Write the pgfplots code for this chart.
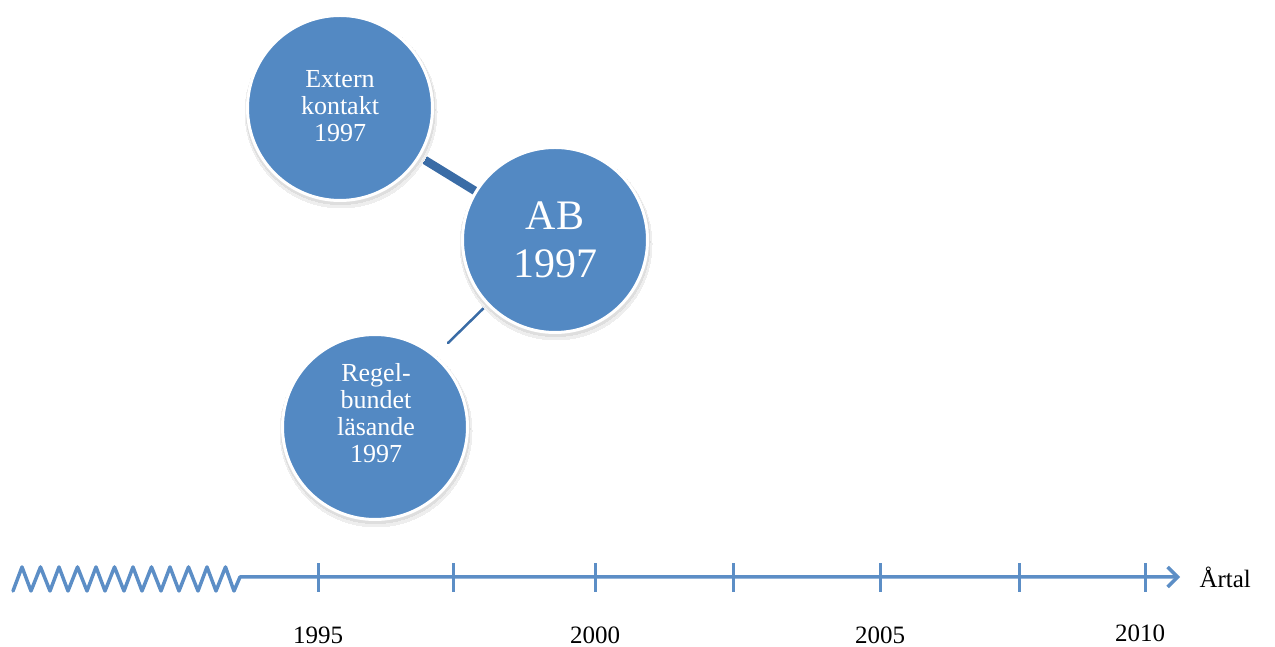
\documentclass[border=0pt]{standalone}
\usepackage{fontspec}
\setmainfont{Liberation Serif}
\usepackage{pgfplots}
\pgfplotsset{compat=1.18}
\usetikzlibrary{arrows.meta}
\definecolor{circfill}{RGB}{83,137,195}
\definecolor{tline}{RGB}{92,142,198}
\definecolor{conn}{RGB}{58,108,166}
\definecolor{shadA}{RGB}{238,238,238}
\definecolor{shadB}{RGB}{222,222,222}
\begin{document}
\begin{tikzpicture}
\begin{axis}[
  width=1275pt, height=646pt, scale only axis,
  xmin=0, xmax=1275, ymin=0, ymax=646,
  hide axis, clip=false]
\path (rel axis cs:0,0) rectangle (rel axis cs:1,1);
% timeline with zigzag
\addplot[tline, line width=3.5pt, line join=round, line cap=round,
  -{Straight Barb[length=10pt,width=20pt,line width=3.5pt]}] coordinates {
  (13,55) (22,79) (31,55) (40.5,79) (50,55) (59,79) (68,55) (77.5,79)
  (87,55) (96,79) (105,55) (114.5,79) (124,55) (133,79) (142,55)
  (151.5,79) (161,55) (170,79) (179,55) (188.5,79) (198,55) (207,79)
  (216,55) (225.5,79) (234,55) (240,69) (1180,69)};
% ticks
\addplot[tline, line width=3pt, unbounded coords=jump] coordinates {
  (318,54) (318,83) (318,nan)
  (453,54) (453,83) (453,nan)
  (595,54) (595,83) (595,nan)
  (733,54) (733,83) (733,nan)
  (880,54) (880,83) (880,nan)
  (1019,54) (1019,83) (1019,nan)
  (1145,54) (1145,83)};
% soft shadows
\addplot[shadA, only marks, mark=*, mark size=96pt, mark options={draw=shadA, fill=shadA, line width=0pt}]
  coordinates {(341,534) (556,402) (376,215)};
\addplot[shadB, only marks, mark=*, mark size=94.5pt, mark options={draw=shadB, fill=shadB, line width=0pt}]
  coordinates {(340.5,536) (555.5,404) (375.5,217)};
% connectors
\addplot[conn, line width=8.5pt] coordinates {(340,538) (555,406)};
\addplot[conn, line width=2.5pt, line cap=round] coordinates {(493,347) (448,303)};
% circles
\addplot[only marks, mark=*, mark size=92.5pt, mark options={draw=white, line width=3pt, fill=circfill}]
  coordinates {(340,538) (555,406) (375,219)};
\coordinate (t1) at (axis cs:340,540);
\coordinate (t2) at (axis cs:555,406);
\coordinate (t3) at (axis cs:376,233);
\coordinate (y1) at (axis cs:318,11);
\coordinate (y2) at (axis cs:595,11);
\coordinate (y3) at (axis cs:880,11);
\coordinate (y4) at (axis cs:1140,13);
\coordinate (ar) at (axis cs:1196,69);
\end{axis}
% texts (placed after the axis so they lie above the circles)
\node[text=white, align=center, font=\fontsize{26}{27}\selectfont] at (t1) {Extern\\kontakt\\1997};
\node[text=white, align=center, font=\fontsize{42}{48}\selectfont] at (t2) {AB\\1997};
\node[text=white, align=center, font=\fontsize{26}{27}\selectfont] at (t3) {Regel-\\bundet\\läsande\\1997};
\node[font=\fontsize{25}{28}\selectfont] at (y1) {1995};
\node[font=\fontsize{25}{28}\selectfont] at (y2) {2000};
\node[font=\fontsize{25}{28}\selectfont] at (y3) {2005};
\node[font=\fontsize{25}{28}\selectfont] at (y4) {2010};
\node[font=\fontsize{25}{28}\selectfont, anchor=west] at (ar) {Årtal};
\end{tikzpicture}
\end{document}
